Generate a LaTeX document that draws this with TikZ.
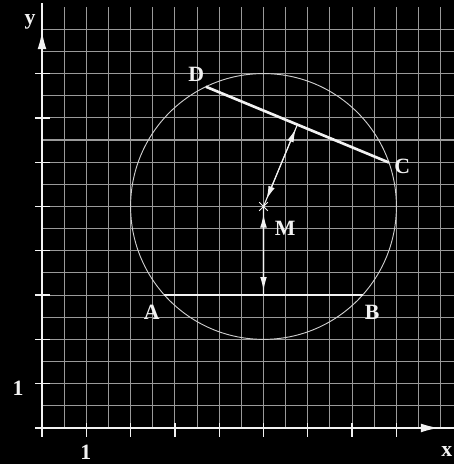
\documentclass[tikz,border=0pt]{standalone}
\usepackage{fontspec}
\setmainfont{Liberation Serif}
\usetikzlibrary{arrows.meta,calc,shapes.misc}
\definecolor{board}{HTML}{000000}
\definecolor{gridgray}{HTML}{9A9A9A}
\definecolor{chalk}{HTML}{F2F2F2}
\tikzset{
  gridline/.style={draw=gridgray,line width=0.7pt},
  axis/.style={draw=chalk,line width=0.8pt},
  axistip/.style={-{Latex[length=4mm,width=2mm]},draw=chalk,line width=0.8pt},
  chord/.style={draw=chalk,line width=1.7pt},
  circ/.style={draw=chalk!85!black,line width=0.6pt},
  dist/.style={{Latex[length=3mm,width=1.5mm]}-{Latex[length=3mm,width=1.5mm]},
    draw=chalk,line width=0.7pt,shorten <=5pt,shorten >=3pt},
  seg/.style={draw=chalk,line width=0.7pt},
  lbl/.style={text=chalk,font=\bfseries\fontsize{14}{16}\selectfont,inner sep=1pt}
}

\begin{document}
\begin{tikzpicture}
  \fill[board] (-0.948,-0.813) rectangle (9.300,9.661);
  \useasboundingbox (-0.948,-0.813) rectangle (9.300,9.661);
  \clip (-0.948,-0.813) rectangle (9.300,9.661);
  \foreach \i in {1,...,18}
    \draw[gridline] (\i/2,0) -- (\i/2,9.5);
  \foreach \i in {1,...,18}
    \draw[gridline] (0,\i/2) -- (9.5,\i/2);

  \draw[axis] (-0.15,0) -- (9.5,0);
  \draw[axis] (0,-0.2) -- (0,9.6);
  \draw[axistip] (8.5,0) -- (8.95,0);
  \draw[axistip] (0,8.5) -- (0,8.95);
  \foreach \i in {1,...,8} {
    \draw[axis] (\i,-0.2) -- (\i,0.12);
    \draw[axis] (-0.16,\i) -- (0.17,\i);
  }
  \node[lbl] (ylabel) at (-0.27,9.16) {y};
  \node[lbl] (xlabel) at (9.14,-0.54) {x};
  \node[lbl] (yone) at (-0.54,0.9) {1};
  \node[lbl] (xone) at (0.99,-0.54) {1};

  \coordinate (M) at (5,5);
  \coordinate (A) at ({5-sqrt(5)},3);
  \coordinate (B) at ({5+sqrt(5)},3);
  \coordinate (D) at ($(M)+(115.69:3)$);
  \coordinate (C) at ($(M)+(19.31:3)$);
  \coordinate (H) at ($(A)!0.5!(B)$);
  \coordinate (K) at ($(D)!0.5!(C)$);

  \draw[circ] (M) circle (3);
  \draw[chord] (A) -- (B);
  \draw[chord] (D) -- (C);
  \draw[seg] (M) -- (H);
  \draw[seg] (M) -- (K);
  \draw[dist] (M) -- (H);
  \draw[dist] (M) -- (K);
  \node[draw=chalk,cross out,line width=0.5pt,minimum size=5pt,inner sep=0pt] (Mx) at (M) {};

  \node[lbl] (Alabel) at (2.48,2.6) {A};
  \node[lbl] (Blabel) at (7.45,2.62) {B};
  \node[lbl] (Clabel) at (8.13,5.91) {C};
  \node[lbl] (Dlabel) at (3.48,7.99) {D};
  \node[lbl] (Mlabel) at (5.49,4.51) {M};
\end{tikzpicture}
\end{document}
